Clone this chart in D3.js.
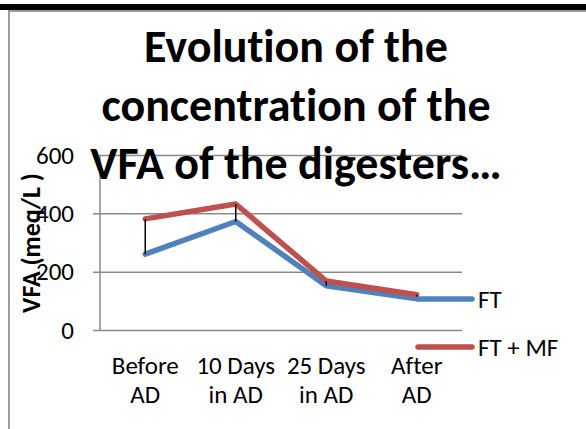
<!DOCTYPE html>
<html><head><meta charset="utf-8">
<script src="https://cdn.jsdelivr.net/npm/d3@7"></script>
<style>
html,body{margin:0;padding:0;background:#fff;}
svg{display:block;}
text{font-family:Carlito,Calibri,Lato,sans-serif;fill:#000;font-variant-ligatures:none;}
</style></head>
<body>
<svg id="c" width="586" height="429"></svg>
<script>
const categories = [["Before","AD"],["10 Days","in AD"],["25 Days","in AD"],["After","AD"]];
const seriesNames = ["FT","FT + MF"];
const ftValues = [260, 372, 152, 107];
const ftmfValues = [381, 432, 168, 121];
const yTicks = [0, 200, 400, 600];
const titleLines = ["Evolution of the","concentration of the","VFA of the digesters\u2026"];
const yTitle = "VFA (meq/L )";
const colors = ["#4F81BD","#C0504D"];

const svg = d3.select("#c");
// top black band and chart frame
svg.append("rect").attr("x",0).attr("y",4).attr("width",586).attr("height",6).attr("fill","#000");
svg.append("line").attr("x1",9).attr("x2",586).attr("y1",11).attr("y2",11).attr("stroke","#9a9a9a").attr("stroke-width",2);
svg.append("line").attr("x1",9).attr("x2",9).attr("y1",10).attr("y2",429).attr("stroke","#9a9a9a").attr("stroke-width",2);

const keys = categories.map(c=>c.join(" "));
const x = d3.scaleBand().domain(keys).range([100,462]).padding(0);
const y = d3.scaleLinear().domain([0,600]).range([330,155]);
const cx = k => x(k) + x.bandwidth()/2;

// gridlines
const yAxis = d3.axisLeft(y).tickValues(yTicks).tickSize(-(462-93)).tickFormat("");
const ga = svg.append("g").attr("transform","translate(93,0)").call(yAxis);
ga.select(".domain").remove();
ga.selectAll(".tick line").attr("stroke","#8a8a8a").attr("stroke-width",1.5).attr("x1",0).attr("x2",462-93);
// y axis line
svg.append("line").attr("x1",100).attr("x2",100).attr("y1",y(600)).attr("y2",y(0)).attr("stroke","#8a8a8a").attr("stroke-width",1.5);
// tick labels
svg.append("g").selectAll("text").data(yTicks).join("text")
  .attr("x",74).attr("y",d=>y(d)).attr("dy","0.35em").attr("text-anchor","end")
  .style("font-size","25px").text(d=>d);

// x labels
const xl = svg.append("g").selectAll("text").data(categories).join("text")
  .attr("text-anchor","middle").style("font-size","25px");
xl.each(function(c,i){
  const t = d3.select(this);
  c.forEach((s,j)=>t.append("tspan").attr("x",cx(keys[i])).attr("y",374+29*j).text(s));
});

// lines
const line = d3.line().x((d,i)=>cx(keys[i])).y(d=>y(d));
[ftValues, ftmfValues].forEach((vals,si)=>{
  svg.append("path").attr("d",line(vals)).attr("fill","none")
    .attr("stroke",colors[si]).attr("stroke-width",5.5)
    .attr("stroke-linejoin","round").attr("stroke-linecap","round");
});
// high-low lines
svg.append("g").selectAll("line").data(keys).join("line")
  .attr("x1",k=>cx(k)).attr("x2",k=>cx(k))
  .attr("y1",(k,i)=>y(ftmfValues[i])).attr("y2",(k,i)=>y(ftValues[i]))
  .attr("stroke","#000").attr("stroke-width",1.5);

// legend
const lg = svg.append("g").selectAll("g").data(seriesNames).join("g")
  .attr("transform",(d,i)=>`translate(418,${299+48*i})`);
lg.append("line").attr("x1",0).attr("x2",54).attr("y1",0).attr("y2",0)
  .attr("stroke",(d,i)=>colors[i]).attr("stroke-width",5.5).attr("stroke-linecap","round");
lg.append("text").attr("x",60).attr("y",0).attr("dy","0.35em").style("font-size","25px").text(d=>d);

// y title
svg.append("text").attr("transform","translate(40,243) rotate(-90)").attr("text-anchor","middle")
  .style("font-size","26px").style("font-weight","bold").text(yTitle);

// title
svg.append("g").selectAll("text").data(titleLines).join("text")
  .attr("x",296).attr("y",(d,i)=>62+58.5*i).attr("text-anchor","middle")
  .style("font-size","46px").style("font-weight","bold").text(d=>d);
</script>
</body></html>
